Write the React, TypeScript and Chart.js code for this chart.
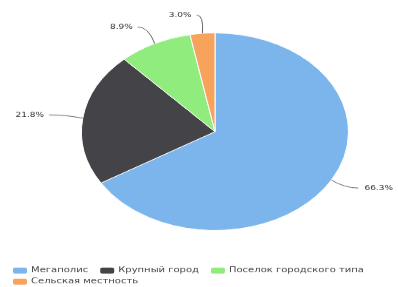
import React, { useEffect, useRef } from "react";
import { Chart, registerables } from "chart.js";

Chart.register(...registerables);

const categories = ["Мегаполис", "Крупный город", "Поселок городского типа", "Сельская местность"];
const values = [66.3, 21.8, 8.9, 3.0];
const valueLabels = ["66.3%", "21.8%", "8.9%", "3.0%"];
const colors = ["#7cb5ec", "#434348", "#90ed7d", "#f7a35c"];

const BUF_W = 398;
const BUF_H = 388;
const FONT = "DejaVu Sans";

const labelPlugin = {
  id: "outerLabels",
  afterDraw(chart: any) {
    const ctx = chart.ctx;
    const meta = chart.getDatasetMeta(0);
    ctx.save();
    meta.data.forEach((arc: any, i: number) => {
      const p = arc.getProps(["x", "y", "startAngle", "endAngle", "outerRadius"], true);
      const a = (p.startAngle + p.endAngle) / 2;
      const cos = Math.cos(a);
      const sin = Math.sin(a);
      const ex = p.x + p.outerRadius * cos;
      const ey = p.y + p.outerRadius * sin;
      const right = cos >= 0;
      const lx = p.x + (p.outerRadius + 31) * cos + (right ? 0 : -3);
      const ly = p.y + (p.outerRadius + 24) * sin - 1;
      ctx.strokeStyle = "#666666";
      ctx.lineWidth = 1;
      ctx.beginPath();
      ctx.moveTo(lx, ly);
      const cx = lx + (right ? -8 : 8);
      ctx.quadraticCurveTo(cx + (ex - cx) * 0.3, ly, ex, ey);
      ctx.stroke();
      ctx.fillStyle = "#333333";
      ctx.font = `9px "${FONT}"`;
      ctx.textBaseline = "middle";
      ctx.textAlign = right ? "left" : "right";
      ctx.fillText(valueLabels[i], lx + (right ? 6 : -5), ly);
    });

    // legend
    ctx.font = `10px "${FONT}"`;
    ctx.textAlign = "left";
    ctx.textBaseline = "middle";
    const rowYs = [365.8, 380.7];
    let x = 13;
    let row = 0;
    categories.forEach((c, i) => {
      const tw = ctx.measureText(c).width;
      const w = 18 + tw;
      if (x + w > BUF_W - 10 && x > 13) {
        row++;
        x = 13;
      }
      const y = rowYs[Math.min(row, rowYs.length - 1)];
      ctx.fillStyle = colors[i];
      ctx.beginPath();
      (ctx as any).roundRect ? (ctx as any).roundRect(x, y - 4, 14, 8, 2) : ctx.rect(x, y - 4, 14, 8);
      ctx.fill();
      ctx.fillStyle = "#444444";
      ctx.fillText(c, x + 18, y);
      x += w + 12;
    });
    ctx.restore();
  },
};

export default function App() {
  const ref = useRef<HTMLCanvasElement | null>(null);
  useEffect(() => {
    if (!ref.current) return;
    const chart = new Chart(ref.current, {
      type: "pie",
      data: {
        labels: categories,
        datasets: [
          {
            data: values,
            backgroundColor: colors,
            borderColor: "#ffffff",
            borderWidth: 1,
          },
        ],
      },
      options: {
        responsive: false,
        animation: false,
        layout: { padding: { left: 81, right: 49, top: 44, bottom: 76 } },
        plugins: {
          legend: { display: false },
          tooltip: { enabled: false },
        },
      },
      plugins: [labelPlugin],
    });
    return () => chart.destroy();
  }, []);
  return (
    <div style={{ position: "fixed", left: 0, top: 0, width: 398, height: 287, background: "#fff", overflow: "hidden" }}>
      <canvas
        ref={ref}
        width={BUF_W}
        height={BUF_H}
        style={{ position: "absolute", left: 0, top: 0, width: "398px", height: "287px", display: "block" }}
      />
    </div>
  );
}
